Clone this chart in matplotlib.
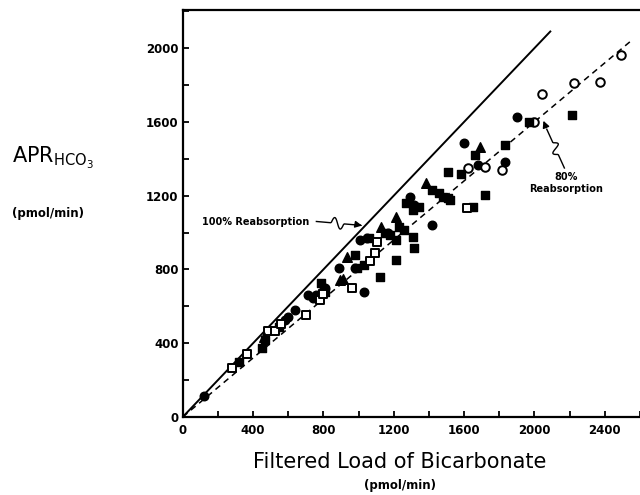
import numpy as np
import matplotlib
matplotlib.use("Agg")
import matplotlib.pyplot as plt

# values (pmol/min)
filled_circle_x = [120, 580, 600, 640, 710, 740, 760, 790, 810, 890, 980, 1010, 1030, 1050,
                   1170, 1290, 1315, 1420, 1600, 1680, 1830, 1900]
filled_circle_y = [115, 525, 540, 580, 660, 645, 660, 680, 700, 810, 810, 960, 680, 970,
                   1000, 1190, 1150, 1040, 1485, 1365, 1380, 1625]

open_circle_x = [1620, 1720, 1815, 2000, 2040, 2225, 2375, 2490]
open_circle_y = [1350, 1355, 1340, 1600, 1750, 1810, 1815, 1960]

filled_square_x = [320, 450, 470, 545, 785, 810, 980, 990, 1030, 1060, 1120, 1150, 1180, 1215,
                   1215, 1230, 1260, 1270, 1310, 1310, 1315, 1345, 1420, 1455, 1480, 1510,
                   1510, 1520, 1580, 1650, 1660, 1720, 1830, 1970, 2215]
filled_square_y = [300, 375, 415, 490, 725, 680, 880, 810, 825, 970, 760, 1000, 985, 850,
                   960, 1030, 1015, 1160, 975, 1120, 915, 1140, 1230, 1215, 1190, 1185,
                   1330, 1175, 1320, 1140, 1420, 1205, 1475, 1600, 1635]

open_square_x = [280, 365, 485, 525, 560, 700, 780, 800, 965, 1065, 1095, 1105, 1615]
open_square_y = [265, 340, 465, 465, 505, 555, 635, 665, 700, 845, 890, 950, 1135]

filled_tri_x = [460, 895, 910, 935, 1130, 1210, 1385, 1690]
filled_tri_y = [435, 745, 750, 865, 1030, 1085, 1270, 1465]

x_ticks = [0, 400, 800, 1200, 1600, 2000, 2400]
y_ticks = [0, 400, 800, 1200, 1600, 2000]

plt.rcParams['font.family'] = ['DejaVu Sans']

fig = plt.figure(figsize=(6.4, 4.95), dpi=100)
ax = fig.add_axes([0.2855, 0.1576, 0.7145, 0.822])

# reference lines
ax.plot([0, 2090], [0, 2090], color='black', lw=1.4)
xd = np.array([0, 2560])
ax.plot(xd, 0.8 * xd, color='black', lw=1.1, ls=(0, (4, 3)))

ms = 38
ax.scatter(filled_circle_x, filled_circle_y, s=ms, marker='o', color='black', zorder=3)
ax.scatter(open_circle_x, open_circle_y, s=ms, marker='o', facecolor='white',
           edgecolor='black', linewidth=1.4, zorder=3)
ax.scatter(filled_square_x, filled_square_y, s=ms, marker='s', color='black', zorder=3)
ax.scatter(open_square_x, open_square_y, s=ms, marker='s', facecolor='white',
           edgecolor='black', linewidth=1.4, zorder=3)
ax.scatter(filled_tri_x, filled_tri_y, s=ms + 10, marker='^', color='black', zorder=3)

ax.set_xlim(0, 2555)
ax.set_ylim(0, 2206)
ax.spines['right'].set_visible(False)
for s in ['left', 'bottom', 'top']:
    ax.spines[s].set_linewidth(1.6)

ax.set_xticks(np.arange(0, 2601, 200))
ax.set_xticklabels([str(v) if v in x_ticks else '' for v in np.arange(0, 2601, 200)])
ax.set_yticks(np.arange(0, 2201, 200))
ax.set_yticklabels([str(v) if v in y_ticks else '' for v in np.arange(0, 2201, 200)])
ax.tick_params(direction='in', length=4, width=1.3, labelsize=8.5, pad=5)
for lbl in ax.get_xticklabels() + ax.get_yticklabels():
    lbl.set_fontweight('bold')
ax.tick_params(axis='y', pad=3)


def squiggle(x0, y0, x1, y1, amp):
    t = np.linspace(0, 1, 60)
    xs = x0 + (x1 - x0) * t
    ys = y0 + (y1 - y0) * t
    # small S-shaped wiggle in the middle, across the direction of travel
    dx, dy = x1 - x0, y1 - y0
    n = np.hypot(dx, dy)
    wig = amp * np.sin(2 * np.pi * (t - 0.35) / 0.3) * ((t > 0.35) & (t < 0.65))
    return xs - dy / n * wig, ys + dx / n * wig


# 100% label and arrow
ax.text(110, 1057, '100% Reabsorption', fontsize=7, fontweight='bold', va='center')
sx, sy = squiggle(760, 1060, 1000, 1040, 30)
ax.plot(sx, sy, color='black', lw=1)
ax.annotate('', xy=(1035, 1035), xytext=(995, 1042),
            arrowprops=dict(arrowstyle='-|>', color='black', lw=1, mutation_scale=10))

# 80% label and arrow
ax.text(2180, 1270, '80%\nReabsorption', fontsize=7, fontweight='bold',
        ha='center', va='center', linespacing=1.2)
sx, sy = squiggle(2170, 1350, 2070, 1560, 25)
ax.plot(sx, sy, color='black', lw=1)
ax.annotate('', xy=(2045, 1620), xytext=(2072, 1555),
            arrowprops=dict(arrowstyle='-|>', color='black', lw=1, mutation_scale=10))

fig.text(400 / 640, 1 - 462 / 495, 'Filtered Load of Bicarbonate', fontsize=15,
         ha='center', va='center')
fig.text(400 / 640, 1 - 486 / 495, '(pmol/min)', fontsize=8.5, fontweight='bold',
         ha='center', va='center')

fig.text(12 / 640, 1 - 158 / 495, r'APR$_{\mathsf{HCO_3}}$', fontsize=15,
         ha='left', va='center')
fig.text(12 / 640, 1 - 213 / 495, '(pmol/min)', fontsize=8.5, fontweight='bold',
         ha='left', va='center')

fig.savefig('out.png', dpi=100)
